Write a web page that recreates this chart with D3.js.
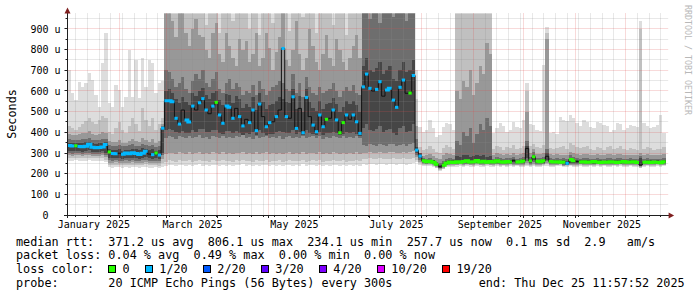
<!DOCTYPE html>
<html>
<head>
<meta charset="utf-8">
<script src="https://cdn.jsdelivr.net/npm/d3@7"></script>
<style>
  body { margin: 0; background: #fff; }
  svg { display: block; font-family: "DejaVu Sans Mono", monospace; }
</style>
</head>
<body>
<div id="chart"></div>
<script>
var svgWidth = 697;
var svgHeight = 297;

// time bins: 2 days each, starting Jan 1 2025
var startDate = new Date(2025, 0, 1);
var binDays = 2;

// median rtt per bin (microseconds)
var median = [
  336, 334, 335, 331, 330, 333, 342, 328, 326, 327, 329, 341, 305, 298, 296, 299, 294, 300, 296, 301, 297, 293, 299, 309, 295, 292, 300, 290, 420,
  553, 553, 548, 468, 440, 508, 460, 450, 527, 508, 543, 563, 508, 490, 527, 545, 484, 444, 527, 521, 468, 516, 476, 431, 463, 447, 508, 408, 537, 476,
  427, 447, 451, 476, 508, 806, 476, 468, 572, 419, 516, 398, 569, 476, 435, 403, 484, 427, 463, 468, 508, 460, 398, 447, 484, 463, 484, 451, 395,
  620, 682, 613, 600, 608, 645, 575, 605, 613, 556, 521, 618, 653, 589, 590, 675,
  314, 285, 262, 258, 260, 255, 245, 234, 241, 252, 256, 254,
  258, 255, 259, 262, 256, 258, 264, 257, 260, 255, 259,
  256, 262, 258, 255, 259, 257, 263, 256, 258, 261, 322, 262, 282, 260, 258, 262, 284, 259, 256, 258, 255, 257, 250, 268, 262, 259,
  256, 258, 255, 257, 259, 256, 254, 257, 255, 258, 256, 254, 257, 259, 255, 256, 258, 254, 242, 255, 257, 254, 256, 255, 253, 258
];

// loss class per bin: 0 = no loss, 1 = 1/20, -1 = in between (no colour)
var loss = [
  1, 1, 0, 1, 1, 1, 1, 1, 1, 1, 1, 1, 0, 1, 1, -1, 1, 1, 1, 1, 1, 1, 1, 1, -1, 1, 0, 1, 1,
  1, 1, 1, 1, 1, -1, 1, 1, 1, -1, 1, 1, 1, -1, 1, 0, 1, 1, 1, 1, 1, -1, 1, 1, -1, 1, 1, 1, 1, -1,
  1, 1, -1, 1, -1, 1, 1, -1, 1, 1, -1, 1, 1, -1, 1, 1, 1, 1, 0, -1, 1, 1, 0, 0, 1, -1, 1, 1, 1,
  1, 1, 1, -1, 1, 1, -1, 1, 1, 1, 1, 1, 1, -1, 0, 1,
  1, 1, 0, 0, 0, 0, 0, -1, 0, 0, 0, 0,
  0, 0, 0, 0, 0, 0, 0, 0, 0, 0, 0,
  0, 0, 0, 0, 0, 0, -1, 0, 0, 0, -1, 0, 0, 0, 0, 0, -1, 0, 0, 0, 0, 0, 1, 0, 0, -1,
  0, 0, 0, 0, 0, 0, 0, 0, 0, 0, 0, 0, 0, 0, 0, 0, 0, 0, -1, 0, 0, 0, 0, 0, 0, 0
];

// smoke: ping spread per bin, outer band (1) to inner band (5), low and high edge
var lo1 = [
  263, 262, 264, 263, 261, 262, 264, 263, 262, 263, 262, 255,
  231, 229, 232, 230, 228, 231, 229, 232, 230, 228, 231, 233, 229, 228, 230, 227, 232,
  238, 242, 240, 236, 244, 241, 239, 243, 237, 240, 245, 238, 241, 236, 243, 240, 238, 244, 239, 241, 237, 242, 240, 246, 238, 241, 236, 243, 239, 240,
  244, 237, 241, 238, 242, 236, 240, 243, 238, 241, 239, 245, 237, 240, 242, 238, 244, 236, 241, 239, 243, 240, 238, 242, 237, 241, 239, 243, 238,
  246, 244, 248, 245, 243, 247, 245, 244, 246, 248, 243, 245, 247, 244, 246, 250,
  255, 240, 236, 235, 236, 234, 226, 215, 221, 231, 234, 234,
  234, 236, 233, 235, 234, 232, 236, 234, 233, 235, 234,
  234, 236, 233, 235, 234, 236, 232, 235, 234, 233, 236, 234, 235, 233, 234, 236, 235, 233, 234, 235, 236, 232, 234, 235, 233, 234,
  236, 234, 233, 235, 234, 236, 233, 235, 234, 232, 235, 234, 236, 233, 234, 235, 233, 234, 226, 234, 235, 233, 234, 236, 233, 235
];
var hi1 = [
  700, 590, 556, 645, 618, 637, 686, 653, 580, 524, 734, 879,
  542, 524, 629, 605, 524, 572, 798, 572, 750, 564, 758, 621, 750, 734, 589, 637, 650,
  999, 999, 999, 999, 999, 999, 999, 999, 999, 999, 999, 999, 999, 999, 999, 999, 999, 999, 999, 999, 999, 999, 999, 999, 999, 999, 999, 999, 999, 999,
  999, 999, 999, 999, 999, 999, 999, 999, 999, 999, 999, 999, 999, 999, 999, 999, 999, 999, 999, 999, 999, 999, 999, 999, 999, 999, 999, 999, 999,
  999, 999, 999, 999, 999, 999, 999, 999, 999, 999, 999, 999, 999, 999, 999, 999,
  700, 427, 403, 410, 460, 421, 379, 385, 427, 445, 440, 411,
  999, 999, 999, 999, 999, 999, 999, 999, 999, 999, 999,
  395, 420, 444, 430, 403, 410, 451, 427, 420, 460, 640, 440, 435, 411, 405, 726, 911, 395, 400, 390, 476, 460, 455, 484, 470, 444,
  430, 460, 450, 427, 420, 451, 445, 435, 430, 403, 410, 444, 440, 411, 420, 435, 430, 425, 940, 444, 430, 419, 425, 435, 484, 395
];
var lo2 = [
  276, 275, 277, 276, 274, 276, 278, 275, 274, 275, 276, 268,
  243, 241, 244, 242, 240, 243, 241, 244, 242, 240, 243, 246, 241, 240, 242, 239, 250,
  258, 264, 262, 257, 266, 263, 260, 265, 258, 262, 268, 259, 263, 257, 265, 262, 259, 266, 260, 263, 258, 264, 262, 268, 259, 263, 257, 265, 260, 262,
  266, 258, 263, 259, 264, 257, 262, 265, 259, 263, 260, 267, 258, 262, 264, 259, 266, 257, 263, 260, 265, 262, 259, 264, 258, 263, 260, 265, 259,
  272, 270, 275, 271, 269, 274, 271, 270, 273, 275, 269, 272, 274, 270, 273, 278,
  268, 250, 243, 241, 242, 239, 229, 218, 225, 236, 239, 238,
  240, 242, 239, 241, 240, 238, 242, 240, 239, 241, 240,
  239, 241, 238, 240, 239, 241, 237, 240, 239, 238, 243, 239, 242, 238, 239, 241, 245, 238, 239, 240, 241, 237, 239, 240, 238, 239,
  241, 239, 238, 240, 239, 241, 238, 240, 239, 237, 240, 239, 241, 238, 239, 240, 238, 239, 229, 239, 240, 238, 239, 241, 238, 240
];
var hi2 = [
  430, 420, 410, 425, 440, 455, 470, 450, 440, 460, 480, 470,
  400, 390, 420, 450, 410, 395, 430, 470, 440, 405, 520, 460, 430, 470, 410, 440, 470,
  999, 999, 999, 999, 999, 999, 999, 999, 999, 999, 999, 999, 920, 999, 999, 999, 880, 999, 999, 999, 940, 999, 999, 999, 999, 900, 999, 999, 870, 999,
  999, 999, 930, 999, 999, 999, 999, 890, 999, 999, 999, 960, 999, 999, 999, 880, 999, 999, 999, 999, 920, 999, 999, 999, 870, 999, 999, 999, 999,
  999, 999, 999, 999, 999, 999, 999, 999, 999, 999, 999, 999, 999, 999, 999, 999,
  560, 330, 315, 320, 335, 318, 305, 300, 325, 340, 330, 318,
  999, 999, 999, 999, 999, 999, 999, 999, 999, 999, 999,
  320, 335, 328, 315, 330, 325, 340, 318, 326, 334, 600, 332, 345, 330, 326, 338, 880, 322, 318, 326, 330, 336, 320, 348, 340, 330,
  322, 328, 334, 318, 315, 328, 322, 316, 330, 336, 320, 326, 334, 318, 315, 325, 320, 316, 900, 318, 328, 322, 316, 320, 318, 330
];
var lo3 = [
  288, 287, 289, 288, 286, 288, 290, 287, 286, 287, 288, 282,
  254, 252, 255, 253, 251, 254, 252, 255, 253, 251, 254, 257, 252, 251, 253, 250, 270,
  296, 302, 299, 294, 304, 300, 297, 303, 295, 299, 306, 296, 301, 294, 303, 299, 296, 304, 297, 300, 295, 302, 299, 306, 296, 300, 294, 303, 297, 299,
  304, 295, 300, 296, 302, 294, 299, 303, 296, 300, 297, 305, 295, 299, 302, 296, 304, 294, 300, 297, 303, 299, 296, 302, 295, 300, 297, 303, 296,
  302, 300, 306, 301, 298, 305, 301, 300, 304, 306, 299, 302, 305, 300, 304, 310,
  280, 258, 248, 245, 246, 243, 233, 222, 229, 240, 243, 242,
  244, 246, 243, 245, 244, 242, 246, 244, 243, 245, 244,
  243, 245, 242, 244, 243, 245, 241, 244, 243, 242, 250, 243, 246, 242, 243, 245, 252, 242, 243, 244, 245, 238, 243, 244, 242, 243,
  245, 243, 242, 244, 243, 245, 242, 244, 243, 241, 244, 243, 245, 242, 243, 244, 242, 243, 232, 243, 244, 242, 243, 245, 242, 244
];
var hi3 = [
  392, 388, 385, 390, 395, 398, 405, 392, 388, 390, 400, 398,
  360, 352, 355, 365, 350, 348, 358, 370, 360, 352, 372, 362, 355, 368, 350, 356, 440,
  999, 999, 940, 860, 999, 999, 880, 820, 900, 950, 870, 860, 800, 760, 880, 930, 780, 740, 880, 820, 760, 720, 850, 800, 840, 740, 780, 880, 720, 760,
  880, 810, 700, 790, 860, 999, 750, 720, 800, 940, 780, 700, 760, 900, 820, 740, 700, 780, 870, 760, 720, 850, 800, 740, 700, 760, 820, 870, 760,
  999, 999, 999, 999, 999, 999, 999, 999, 999, 999, 999, 999, 999, 999, 999, 999,
  430, 295, 285, 288, 295, 285, 275, 270, 290, 300, 295, 288,
  600, 560, 650, 620, 700, 580, 640, 720, 680, 830, 780,
  290, 298, 294, 288, 296, 292, 300, 290, 294, 298, 500, 298, 320, 296, 294, 300, 850, 294, 290, 293, 290, 292, 288, 305, 300, 296,
  290, 294, 296, 290, 288, 294, 290, 288, 294, 296, 290, 294, 296, 290, 288, 292, 290, 288, 300, 290, 294, 290, 288, 290, 288, 294
];
var lo4 = [
  298, 297, 299, 298, 296, 298, 301, 297, 296, 297, 298, 290,
  264, 262, 265, 263, 261, 264, 262, 265, 263, 261, 264, 268, 262, 261, 263, 260, 290,
  373, 380, 376, 370, 383, 377, 373, 381, 371, 376, 385, 372, 379, 370, 381, 376, 372, 383, 374, 378, 371, 380, 376, 385, 372, 378, 370, 381, 374, 376,
  383, 371, 378, 373, 380, 370, 376, 381, 373, 378, 374, 384, 371, 376, 380, 373, 383, 370, 378, 374, 381, 376, 373, 380, 371, 378, 374, 381, 373,
  340, 336, 345, 338, 334, 344, 338, 336, 342, 345, 335, 340, 344, 336, 342, 350,
  290, 268, 252, 249, 250, 247, 237, 226, 233, 244, 246, 246,
  248, 250, 247, 249, 248, 246, 250, 248, 247, 249, 248,
  247, 249, 246, 248, 247, 249, 245, 248, 247, 246, 262, 247, 256, 246, 247, 249, 262, 246, 247, 248, 249, 242, 246, 248, 246, 247,
  249, 247, 246, 248, 247, 249, 246, 248, 247, 245, 248, 247, 249, 246, 247, 248, 246, 247, 235, 247, 248, 246, 247, 249, 246, 248
];
var hi4 = [
  366, 364, 362, 365, 368, 370, 372, 364, 362, 363, 368, 370,
  338, 334, 336, 340, 332, 333, 337, 342, 336, 332, 344, 338, 334, 340, 331, 335, 430,
  700, 690, 660, 620, 640, 670, 610, 590, 650, 680, 660, 700, 640, 620, 660, 690, 610, 590, 640, 660, 610, 640, 620, 580, 600, 590, 630, 580, 650, 610,
  580, 600, 620, 630, 650, 640, 610, 600, 680, 590, 640, 570, 670, 620, 590, 580, 620, 590, 600, 610, 640, 600, 570, 600, 620, 600, 630, 590, 580,
  999, 999, 950, 999, 999, 930, 999, 999, 999, 960, 999, 999, 999, 940, 999, 999,
  370, 282, 278, 270, 276, 268, 258, 250, 262, 272, 276, 270,
  360, 340, 400, 380, 420, 350, 390, 440, 410, 470, 430,
  272, 280, 276, 270, 278, 274, 282, 272, 276, 280, 360, 280, 305, 278, 276, 282, 320, 276, 272, 275, 272, 274, 270, 288, 282, 278,
  272, 276, 278, 272, 270, 276, 272, 270, 276, 278, 272, 276, 278, 272, 270, 274, 272, 270, 285, 272, 276, 272, 270, 272, 270, 276
];
var lo5 = [
  310, 309, 311, 308, 307, 310, 314, 306, 305, 306, 308, 300,
  276, 274, 276, 276, 272, 277, 274, 278, 275, 272, 277, 282, 274, 272, 276, 270, 300,
  410, 415, 412, 400, 395, 405, 398, 396, 412, 404, 414, 418, 404, 400, 410, 412, 398, 392, 408, 406, 396, 406, 398, 388, 396, 392, 404, 386, 410, 398,
  388, 394, 394, 400, 406, 400, 398, 396, 412, 390, 404, 386, 412, 398, 390, 388, 400, 388, 396, 396, 404, 396, 386, 394, 400, 396, 400, 394, 384,
  420, 440, 410, 405, 415, 430, 400, 412, 418, 395, 385, 420, 430, 400, 405, 440,
  300, 276, 256, 252, 254, 250, 240, 229, 236, 247, 250, 249,
  251, 252, 250, 253, 251, 250, 254, 251, 250, 252, 251,
  251, 254, 251, 250, 253, 251, 255, 250, 252, 254, 275, 254, 265, 252, 251, 253, 268, 252, 250, 251, 250, 250, 244, 254, 254, 251,
  250, 251, 253, 250, 249, 251, 250, 250, 252, 251, 253, 250, 249, 251, 250, 251, 250, 249, 238, 250, 251, 250, 251, 250, 249, 252
];
var hi5 = [
  350, 348, 347, 348, 350, 352, 355, 346, 345, 346, 350, 352,
  318, 314, 315, 319, 312, 316, 316, 321, 317, 313, 322, 318, 314, 319, 312, 314, 425,
  600, 610, 590, 560, 540, 570, 545, 530, 590, 575, 600, 615, 580, 560, 590, 600, 555, 530, 585, 580, 540, 575, 560, 520, 535, 525, 570, 510, 590, 545,
  515, 530, 535, 550, 570, 560, 545, 540, 610, 515, 575, 500, 610, 545, 520, 505, 550, 515, 535, 540, 565, 535, 500, 525, 550, 535, 550, 530, 500,
  720, 760, 700, 690, 710, 740, 680, 700, 720, 660, 650, 700, 740, 690, 700, 750,
  330, 300, 272, 266, 268, 264, 254, 244, 250, 262, 266, 264,
  285, 280, 290, 288, 282, 286, 292, 284, 288, 280, 286,
  264, 270, 266, 262, 268, 265, 272, 263, 266, 270, 335, 270, 292, 268, 266, 270, 300, 267, 264, 266, 263, 265, 262, 278, 272, 268,
  264, 266, 268, 264, 262, 266, 264, 262, 266, 268, 264, 266, 267, 264, 262, 265, 264, 262, 275, 263, 266, 264, 262, 264, 262, 266
];

// y axis ticks and x labels
var yTicks = [0, 100, 200, 300, 400, 500, 600, 700, 800, 900];
var monthLabels = ["2025-01", "2025-03", "2025-05", "2025-07", "2025-09", "2025-11"];

// legend
var rttStats = ["371.2 us avg", "806.1 us max", "234.1 us min", "257.7 us now", "0.1 ms sd", "2.9   am/s"];
var lossStats = ["0.04 % avg", "0.49 % max", "0.00 % min", "0.00 % now"];
var lossLabels = ["0", "1/20", "2/20", "3/20", "4/20", "10/20", "19/20"];
var lossColors = ["#26ff00", "#00b8ff", "#0059ff", "#5e00ff", "#7e00ff", "#dd00ff", "#ff0000"];
var probeText = "20 ICMP Echo Pings (56 Bytes) every 300s";
var endText = "Thu Dec 25 11:57:52 2025";

// plot frame
var plotLeft = 67.5, plotRight = 668.1, plotTop = 13.5, plotBottom = 215;

var svg = d3.select("#chart")
    .append("svg")
    .attr("width", svgWidth)
    .attr("height", svgHeight);

var x = d3.scaleTime()
    .domain([startDate, new Date(2025, 11, 26, 10)])
    .range([plotLeft, plotRight]);

var y = d3.scaleLinear()
    .domain([0, 975])
    .range([plotBottom, plotTop]);

function binStart(i) {
    return d3.timeDay.offset(startDate, i * binDays);
}

// two points per bin so every value is a flat step
var steps = [];
median.forEach(function(m, i) {
    steps.push({i: i, x: x(binStart(i))});
    steps.push({i: i, x: x(binStart(i + 1))});
});

svg.append("clipPath").attr("id", "clip")
  .append("rect")
    .attr("x", plotLeft)
    .attr("y", plotTop)
    .attr("width", plotRight - plotLeft)
    .attr("height", plotBottom - plotTop);

// smoke
var bands = [
    {lo: lo1, hi: hi1, color: "#dddddd"},
    {lo: lo2, hi: hi2, color: "#c0c0c0"},
    {lo: lo3, hi: hi3, color: "#989898"},
    {lo: lo4, hi: hi4, color: "#6e6e6e"},
    {lo: lo5, hi: hi5, color: "#464646"}
];
var smokeGroup = svg.append("g").attr("clip-path", "url(#clip)");
bands.forEach(function(b) {
    var area = d3.area()
        .x(d => d.x)
        .y0(d => y(b.lo[d.i]))
        .y1(d => y(b.hi[d.i]));
    smokeGroup.append("path")
        .attr("d", area(steps))
        .attr("fill", b.color)
        .attr("shape-rendering", "crispEdges");
});

// grid
var px = v => Math.floor(v) + 0.5;
var gridGroup = svg.append("g");

var months = d3.timeMonth.range(d3.timeMonth.offset(startDate, 1), x.domain()[1]);
var mondays = d3.timeMonday.range(startDate, x.domain()[1])
    .filter(d => d.getDate() !== 1);

function vgrid(dates, color, tick) {
    gridGroup.selectAll(null)
        .data(dates)
        .enter().append("line")
        .attr("x1", d => px(x(d)))
        .attr("x2", d => px(x(d)))
        .attr("y1", plotTop)
        .attr("y2", plotBottom)
        .attr("stroke", color)
        .attr("stroke-dasharray", "1,1");
    gridGroup.selectAll(null)
        .data(dates)
        .enter().append("line")
        .attr("x1", d => px(x(d)))
        .attr("x2", d => px(x(d)))
        .attr("y1", plotBottom)
        .attr("y2", plotBottom + tick)
        .attr("stroke", "#1f1f1f");
}
function hgrid(values, color, tick) {
    gridGroup.selectAll(null)
        .data(values)
        .enter().append("line")
        .attr("y1", d => px(y(d)))
        .attr("y2", d => px(y(d)))
        .attr("x1", plotLeft)
        .attr("x2", plotRight)
        .attr("stroke", color)
        .attr("stroke-dasharray", "1,1");
    gridGroup.selectAll(null)
        .data(values)
        .enter().append("line")
        .attr("y1", d => px(y(d)))
        .attr("y2", d => px(y(d)))
        .attr("x1", plotLeft - tick)
        .attr("x2", plotLeft)
        .attr("stroke", "#1f1f1f");
}
vgrid(mondays, "rgba(143,143,143,0.4)", 2);
vgrid(months, "rgba(222,79,79,0.42)", 3);
hgrid(d3.range(50, 975, 100), "rgba(143,143,143,0.4)", 2);
hgrid(yTicks.filter(d => d > 0), "rgba(222,79,79,0.42)", 3);

// median line
var medianLine = d3.line()
    .x(d => d.x)
    .y(d => y(median[d.i]));
svg.append("path")
    .attr("d", medianLine(steps))
    .attr("fill", "none")
    .attr("stroke", "#111")
    .attr("stroke-width", 1);

// loss colouring: runs of same-colour bins, joined only across small steps
[0, 1].forEach(function(code) {
    var runs = [], run = null;
    median.forEach(function(m, i) {
        if (loss[i] !== code) { run = null; return; }
        if (!run || Math.abs(y(m) - y(median[i - 1])) > 4) {
            run = [];
            runs.push(run);
        }
        run.push([x(binStart(i)), y(m)], [x(binStart(i + 1)), y(m)]);
    });
    svg.append("g").selectAll("path")
        .data(runs)
        .enter().append("path")
        .attr("d", d3.line())
        .attr("fill", "none")
        .attr("stroke", lossColors[code])
        .attr("stroke-width", 3);
});

// axes lines and arrows
svg.append("line")
    .attr("x1", plotLeft - 3.5).attr("x2", plotRight + 1)
    .attr("y1", plotBottom + 0.5).attr("y2", plotBottom + 0.5)
    .attr("stroke", "#1f1f1f");
svg.append("line")
    .attr("x1", plotLeft).attr("x2", plotLeft)
    .attr("y1", plotBottom + 3).attr("y2", plotTop - 1)
    .attr("stroke", "#1f1f1f");
svg.append("path")
    .attr("d", `M${plotRight + 0.5},${plotBottom - 2.5}L${plotRight + 6},${plotBottom + 0.5}L${plotRight + 0.5},${plotBottom + 3.5}Z`)
    .attr("fill", "#7f1f1f");
svg.append("path")
    .attr("d", `M${plotLeft - 3},${plotTop}L${plotLeft},${plotTop - 6}L${plotLeft + 3},${plotTop}Z`)
    .attr("fill", "#7f1f1f");

// y tick labels
var yAxis = svg.append("g")
    .attr("transform", "translate(60.5,0)")
    .call(d3.axisLeft(y)
        .tickValues(yTicks)
        .tickSize(0)
        .tickPadding(0)
        .tickFormat(d => d ? d + " u" : "0\u00a0\u00a0"));
yAxis.select(".domain").remove();
yAxis.selectAll("text")
    .attr("font-family", "DejaVu Sans Mono")
    .attr("font-size", "10px")
    .attr("fill", "#000");

// x labels, centred on each labelled month
var parseMonth = d3.timeParse("%Y-%m");
var xAxis = svg.append("g")
    .attr("transform", `translate(0,${plotBottom})`)
    .call(d3.axisBottom(x)
        .tickValues(monthLabels.map(m => d3.timeHour.offset(parseMonth(m), 372)))
        .tickSize(0)
        .tickFormat((d, i) => d3.timeFormat("%B %Y")(parseMonth(monthLabels[i]))));
xAxis.select(".domain").remove();
xAxis.selectAll("text")
    .attr("font-family", "DejaVu Sans Mono")
    .attr("font-size", "10px")
    .attr("fill", "#000")
    .attr("dy", null)
    .attr("y", 13);

// axis title
svg.append("text")
    .attr("transform", "translate(15.5,114) rotate(-90)")
    .attr("text-anchor", "middle")
    .attr("font-size", "11.8px")
    .text("Seconds");

// watermark
svg.append("text")
    .attr("transform", "translate(685,5) rotate(90)")
    .attr("font-size", "8.3px")
    .attr("fill", "#b8b8b8")
    .text("RRDTOOL / TOBI OETIKER");

// legend
var charW = 7.1;
var legendX = 16;
var legend = svg.append("g").attr("font-size", "11.8px").attr("fill", "#000");

function legendRow(txt, baseline, xpos) {
    legend.append("text")
        .attr("xml:space", "preserve")
        .style("white-space", "pre")
        .attr("x", xpos)
        .attr("y", baseline)
        .text(txt);
}
legendRow("median rtt:  " + rttStats.join("  "), 245.5, legendX);
legendRow("packet loss: " + lossStats.join("  "), 259.3, legendX);
legendRow("loss color:", 273, legendX);
legendRow("probe:       " + probeText, 286.8, legendX);
legendRow("end: " + endText, 286.8, 478.7);

var cursor = legendX + 13 * charW - 0.3;
lossLabels.forEach(function(lbl, i) {
    legend.append("rect")
        .attr("x", Math.round(cursor) + 0.5)
        .attr("y", 265.5)
        .attr("width", 7)
        .attr("height", 7)
        .attr("fill", lossColors[i])
        .attr("stroke", "#000");
    legend.append("text")
        .attr("x", cursor + 14.6)
        .attr("y", 273)
        .text(lbl);
    cursor += 14.6 + lbl.length * charW + 15;
});
</script>
</body>
</html>
